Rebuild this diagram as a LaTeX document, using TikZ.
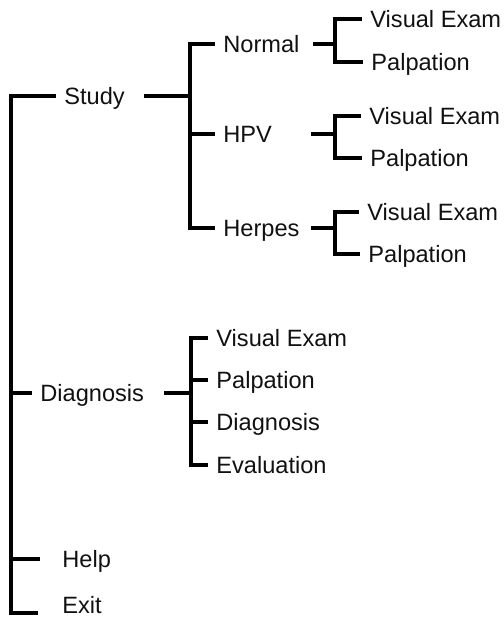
\documentclass[tikz,border=0pt]{standalone}
\usepackage{fontspec}
\setmainfont{Liberation Sans}
\usepackage{xcolor}
\definecolor{cLine}{HTML}{000000}
\definecolor{cText}{HTML}{111111}
\usetikzlibrary{positioning,calc}
\tikzset{
  node-item/.style={anchor=west,inner xsep=4pt,inner ysep=0pt,
    text height=8.4pt,text depth=0pt,text=cText,
    font=\fontsize{11.8}{13}\selectfont},
  link/.style={draw=cLine,line width=1.7pt,line join=miter},
}

\begin{document}
\begin{tikzpicture}[x=0.5pt,y=-0.5pt]
  \useasboundingbox (0,0) rectangle (504,618);
  % top level
  \node[node-item] (study) at (56,96)  {Study};
  \node[node-item] (diag)  at (32,393) {Diagnosis};
  \node[node-item] (help)  at (54,559) {Help};
  \node[node-item] (exit)  at (54,605) {Exit};
  \coordinate (kRoot) at (11,613);
  \draw[link,shorten >=8pt] (study) -| (kRoot) -- (kRoot -| exit.west);
  \draw[link] (kRoot |- diag) -- (diag);
  \draw[link,shorten >=7pt] (kRoot |- help) -- (help);
  % study
  \node[node-item] (normal) at (215,44)  {Normal};
  \node[node-item] (hpv)    at (215,134) {HPV};
  \node[node-item] (herpes) at (215,228) {Herpes};
  \coordinate (kStudy) at (190,96);
  \draw[link,shorten <=5.5pt] (study) -- (kStudy);
  \draw[link] (normal) -| (kStudy) |- (herpes);
  \draw[link] (kStudy |- hpv) -- (hpv);
  % normal / hpv / herpes
  \node[node-item] (vis1) at (362,19)  {Visual Exam};
  \node[node-item] (pal1) at (363,62)  {Palpation};
  \node[node-item] (vis2) at (361,116) {Visual Exam};
  \node[node-item] (pal2) at (362,158) {Palpation};
  \node[node-item] (vis3) at (359,212) {Visual Exam};
  \node[node-item] (pal3) at (360,254) {Palpation};
  \coordinate (kNormal) at (335,44);
  \coordinate (kHpv)    at (335,134);
  \coordinate (kHerpes) at (335,228);
  \draw[link,shorten <=2.5pt] (normal) -- (kNormal);
  \draw[link,shorten <=15.5pt] (hpv) -- (kHpv);
  \draw[link,shorten <=1.5pt] (herpes) -- (kHerpes);
  \draw[link] (vis1) -| (kNormal) |- (pal1);
  \draw[link] (vis2) -| (kHpv) |- (pal2);
  \draw[link] (vis3) -| (kHerpes) |- (pal3);
  % diagnosis
  \node[node-item] (dVis) at (208,338) {Visual Exam};
  \node[node-item] (dPal) at (208,380) {Palpation};
  \node[node-item] (dDia) at (208,422) {Diagnosis};
  \node[node-item] (dEva) at (208,465) {Evaluation};
  \coordinate (kDiag) at (191,393);
  \draw[link,shorten <=6pt] (diag) -- (kDiag);
  \draw[link] (dVis) -| (kDiag) |- (dEva);
  \draw[link] (kDiag |- dPal) -- (dPal);
  \draw[link] (kDiag |- dDia) -- (dDia);
\end{tikzpicture}
\end{document}
